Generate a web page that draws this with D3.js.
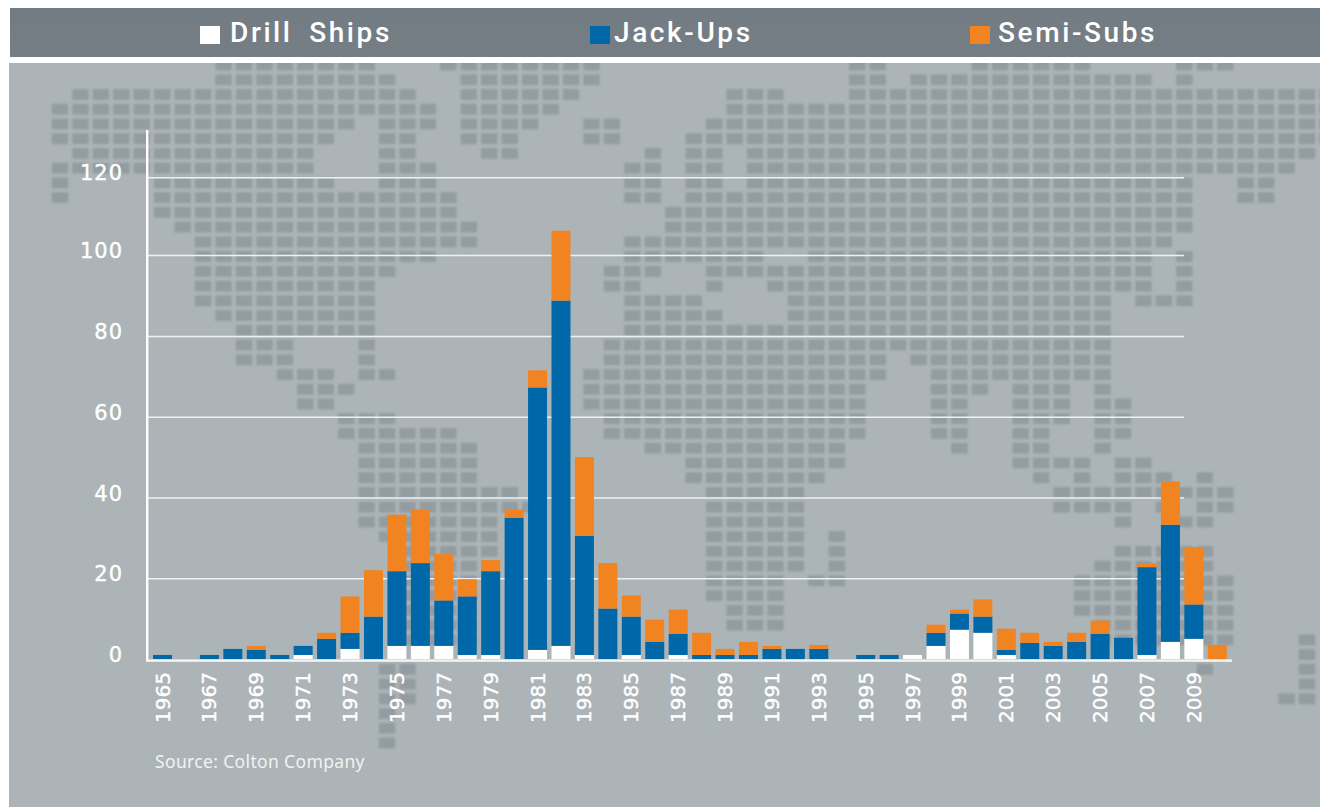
<!DOCTYPE html>
<html><head><meta charset="utf-8">
<script src="https://cdn.jsdelivr.net/npm/d3@7/dist/d3.min.js"></script>
<style>html,body{margin:0;padding:0;background:#fff;overflow:hidden}svg{display:block}</style>
</head><body><div id="chart"></div>
<script>
const years = d3.range(1965, 2011);
const drillShips = [0,0,0,0,0,0,1,0,2.5,0,3.25,3.25,3.25,1,1,0,2.25,3.25,1,0,1,0,1,0,0,0,0,0,0,0,0,0,1,3.25,7.25,6.5,1,0,0,0,0,0,1,4.25,5,0];
const jackUps =    [1,0,1,2.5,2.25,1,2.25,5,4,10.5,18.5,20.5,11.25,14.5,20.75,35,65,85.5,29.5,12.5,9.5,4.25,5.25,1,1,1,2.5,2.5,2.5,0,1,1,0,3.25,4,4,1.25,4,3.25,4.25,6.25,5.25,21.75,29,8.5,0];
const semiSubs =   [0,0,0,0,1,0,0,1.5,9,11.5,14,13.25,11.5,4.25,2.75,2,4.25,17.5,19.5,11.25,5.25,5.5,6,5.5,1.5,3.25,0.75,0,1,0,0,0,0,2,1,4.25,5.25,2.5,1,2.25,3.25,0,1,10.75,14.25,3.5];
const seriesNames = ["Drill Ships","Jack-Ups","Semi-Subs"];
const seriesColors = ["#ffffff","#0067a9","#f18421"];
const yTicks = [0,20,40,60,80,100,120];
const xTickYears = years.filter(d => d % 2 === 1 && d < 2010);
const sourceNote = "Source: Colton Company";
// decorative dot-matrix world map: runs of filled cells per row
const mapRows = ["8-15,19-26,39-40,45-50,55-57","8-16,20-26,39-40,42-53,55","1-17,20-25,33-35,39-62","0-18,20-24,33-62","0-14,16-18,20-23,26-27,32-62","0-13,16-17,20-22,26-27,31-62","1-12,16-17,21-22,29,31-32,34-61","0-12,16-18,28-29,31-32,34-60","0,5-13,16-18,28-29,31-32,34-55,58-59","0,5-19,28-29,31-55,58-59","5-19,30-55","6-20,30-55","7-20,28-54","7-18,28-34,37-53,55","7-16,27-29,32-53,55","7-15,27-28,32,35-53,55","7-15,28-31,36-51,53-55","8-15,28-32,36-51","9-15,28-51","9-11,15,27-51","9-11,15,27-40,42-51","11-13,15-16,26-40,43-51","12-14,26-39,43-45,47-49,51","12-13,26-39,43-44,47-49,51-52","14-16,27-39,43-44,47-49,51-52","14-19,27-39,43-44,47-48,51-52","15-20,29-38,44,47-48,51","15-20,31-38,47-50,52-53","15-20,31-37,48,50,52-54,56","15-22,32-36,49-57","15-23,32-36,49-52,54,56-57","15-21,32-36,52,55-56","16-21,32-36,38","17-21,32-36,38,52-56","17-20,32-36,38,51-56","17-20,32-35,37-38,50-57","17-20,32-35,50-57","17-20,33-35,50-57","17-20,33-35,51-57","17-20,51-57,61","61","16-17,56,61","16-17,61","16-17,60-61","16","16","16"];

const svg = d3.select("#chart").append("svg").attr("width",1320).attr("height",807);
const defs = svg.append("defs");
defs.append("filter").attr("id","soft").attr("x","-2%").attr("y","-2%").attr("width","104%").attr("height","104%")
  .append("feGaussianBlur").attr("stdDeviation",0.9);
defs.append("clipPath").attr("id","panelClip").append("rect").attr("x",9).attr("y",63).attr("width",1311).attr("height",744);
const hg = defs.append("linearGradient").attr("id","hdr").attr("x1",0).attr("x2",0).attr("y1",0).attr("y2",1);
hg.append("stop").attr("offset",0).attr("stop-color","#727c82");
hg.append("stop").attr("offset",1).attr("stop-color","#747e84");

svg.append("rect").attr("x",10).attr("y",8).attr("width",1310).attr("height",49).attr("fill","url(#hdr)");
svg.append("rect").attr("x",9).attr("y",63).attr("width",1311).attr("height",744).attr("fill","#acb4b7");

// map
const mapCol = d3.scaleLinear().domain([0,61]).range([60,1307]);
const mapRow = d3.scaleLinear().domain([0,46]).range([65,743]);
const cells = [];
mapRows.forEach((spec,r)=>spec.split(",").forEach(run=>{
  const [a,b] = run.split("-").map(Number);
  d3.range(a,(b===undefined?a:b)+1).forEach(c=>cells.push({r,c}));
}));
svg.append("g").attr("clip-path","url(#panelClip)").append("g").attr("filter","url(#soft)")
  .selectAll("rect").data(cells).join("rect")
  .attr("x",d=>mapCol(d.c)-8.2).attr("y",d=>mapRow(d.r)-5.4).attr("width",16.4).attr("height",10.8).attr("fill","#939ca0");

// scales
const x = d3.scaleBand().domain(years).range([150.8,1229]).paddingInner(0.19).paddingOuter(0.095);
const y = d3.scaleLinear().domain([0,80,100,120]).range([659,336,255,177.3]);

// y axis with gridlines
const yAxis = d3.axisLeft(y).tickValues(yTicks).tickSizeInner(-(1184-148)).tickSizeOuter(0).tickPadding(25);
const gy = svg.append("g").attr("transform","translate(148,0)").call(yAxis);
gy.select(".domain").remove();
gy.selectAll(".tick line").attr("stroke","#eef1f1").attr("stroke-width",1.4).attr("opacity",d=>d===0?0:1);
gy.selectAll(".tick text").attr("fill","#fff").attr("stroke","#fff").attr("stroke-width",0.4)
  .attr("font-family","'DejaVu Sans'").attr("font-size",21)
  .attr("letter-spacing",1).attr("dy","0.12em");

// stacked bars
const table = years.map((yr,i)=>({year:yr,drill:drillShips[i],jack:jackUps[i],semi:semiSubs[i]}));
const stack = d3.stack().keys(["drill","jack","semi"])(table);
svg.append("g").selectAll("g").data(stack).join("g").attr("fill",(d,i)=>seriesColors[i])
  .selectAll("rect").data(d=>d.filter(s=>s[1]>s[0])).join("rect")
  .attr("x",d=>x(d.data.year)).attr("width",x.bandwidth())
  .attr("y",d=>y(d[1])).attr("height",d=>y(d[0])-y(d[1]));

// axis lines
svg.append("rect").attr("x",146).attr("y",130).attr("width",2.4).attr("height",532).attr("fill","#fff");
svg.append("rect").attr("x",146).attr("y",659.4).attr("width",1086).attr("height",2.4).attr("fill","#f4f6f6");

// x labels
const xAxis = d3.axisBottom(x).tickValues(xTickYears).tickSize(0).tickFormat(d3.format("d"));
const gx = svg.append("g").attr("transform","translate(0,662)").call(xAxis);
gx.select(".domain").remove();
gx.selectAll(".tick text").attr("fill","#fff").attr("stroke","#fff").attr("stroke-width",0.4)
  .attr("font-family","'DejaVu Sans'").attr("font-size",20)
  .attr("text-anchor","end").attr("transform","translate(7,10) rotate(-90)").attr("x",0).attr("y",0).attr("dy",0);

// legend
const legendX = d3.scaleOrdinal().domain(seriesNames).range([200,590,970]);
const legendTextX = d3.scaleOrdinal().domain(seriesNames).range([230,614,998]);
const lg = svg.append("g").selectAll("g").data(seriesNames).join("g");
lg.append("rect").attr("x",d=>legendX(d)).attr("y",26).attr("width",20).attr("height",18).attr("fill",(d,i)=>seriesColors[i]);
lg.append("text").attr("x",d=>legendTextX(d)).attr("y",42).text(d=>d).attr("fill","#fff")
  .attr("font-family","Roboto").attr("font-weight",500).attr("font-size",28).attr("letter-spacing",2.6).attr("word-spacing",7);

svg.append("text").attr("x",155).attr("y",768).text(sourceNote).attr("fill","#f0f3f3")
  .attr("font-family","'Noto Sans'").attr("font-weight",400).attr("font-size",17.5).attr("letter-spacing",0.35);
</script></body></html>
